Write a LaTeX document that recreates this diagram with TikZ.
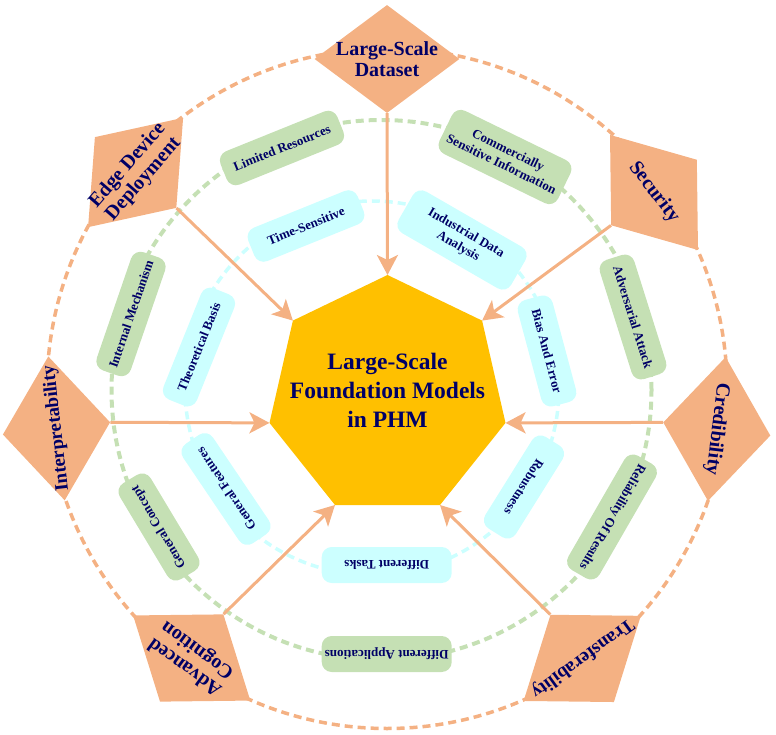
\documentclass[tikz,border=0pt]{standalone}
\usepackage{fontspec}
\setmainfont{Liberation Serif}
\usetikzlibrary{shapes.geometric,arrows.meta}
\definecolor{dorange}{HTML}{F4B183}
\definecolor{dgreen}{HTML}{C5E0B4}
\definecolor{dcyan}{HTML}{CCFFFF}
\definecolor{dgold}{HTML}{FFC000}
\definecolor{dnavy}{HTML}{000066}
\begin{document}
\begin{tikzpicture}[x=1pt,y=-1pt,
  dia/.style={shape=diamond, fill=dorange, minimum width=145pt, minimum height=108pt,
    inner sep=-25pt, text=dnavy, font=\fontsize{20}{21}\selectfont\bfseries, align=center},
  gbox/.style={rounded corners=10pt, fill=dgreen, minimum height=36pt, inner sep=0pt,
    text=dnavy, font=\fontsize{13}{15.5}\selectfont\bfseries, align=center},
  cbox/.style={gbox, fill=dcyan},
  ring/.style={line width=3.5pt, dash pattern=on 8pt off 5pt},
  arr/.style={draw=dorange, line width=3pt, -{Stealth[length=20pt,width=21pt,inset=5pt]}}]
\useasboundingbox (0,0) rectangle (776,735);

% rings
\draw[ring, draw=dorange] (387,388.5) circle[radius=340pt];
\draw[ring, draw=dgreen, line width=4pt] (381.5,390) circle[radius=270pt];
\draw[ring, draw=dcyan] (372,388) circle[radius=187pt];

% heptagon
\coordinate (h1) at (387.5,275);
\coordinate (h2) at (292.9,320.6);
\coordinate (h3) at (269.5,422.9);
\coordinate (h4) at (335.0,505.0);
\coordinate (h5) at (440.0,505.0);
\coordinate (h6) at (505.5,422.9);
\coordinate (h7) at (482.1,320.6);
\fill[dgold] (h1)--(h2)--(h3)--(h4)--(h5)--(h6)--(h7)--cycle;
\node[text=dnavy, font=\fontsize{23.5}{29}\selectfont\bfseries, align=center] (core) at (387.5,390)
  {Large-Scale\\Foundation Models\\in PHM};

% green boxes
\node[gbox, minimum width=126pt, rotate=22] (lim) at (282,148) {Limited Resources};
\node[gbox, minimum width=132pt, minimum height=48pt, rotate=-26] (com) at (505,157) {Commercially\\Sensitive Information};
\node[gbox, minimum width=125pt, rotate=-72.5] (advatt) at (633,317) {Adversarial Attack};
\node[gbox, minimum width=132pt, rotate=-120] (rel) at (612,517) {Reliability Of Results};
\node[gbox, minimum width=130pt, rotate=180] (diffapp) at (386.7,654) {Different Applications};
\node[gbox, minimum width=112pt, rotate=121] (gencon) at (159,527) {General Concept};
\node[gbox, minimum width=125pt, rotate=71] (intmech) at (131,314) {Internal Mechanism};

% cyan boxes
\node[cbox, minimum width=118pt, rotate=22] (time) at (306,226) {Time-Sensitive};
\node[cbox, minimum width=130pt, minimum height=48pt, rotate=-30] (ind) at (462,240) {Industrial Data\\Analysis};
\node[cbox, minimum width=110pt, rotate=-75] (bias) at (547,351) {Bias And Error};
\node[cbox, minimum width=108pt, rotate=-122] (rob) at (524,487) {Robustness};
\node[cbox, minimum width=130pt, rotate=180] (difft) at (386.7,565) {Different Tasks};
\node[cbox, minimum width=120pt, rotate=124] (genf) at (226,489) {General Features};
\node[cbox, minimum width=120pt, rotate=68] (theo) at (199,347) {Theoretical Basis};

% diamonds
\node[dia] (dataset) at (387,59) {Large-Scale\\Dataset};
\node[dia, rotate=49] (edge) at (135.6,172.5) {Edge Device\\Deployment};
\node[dia, rotate=-52.6] (security) at (654,192.5) {Security};
\node[dia, rotate=96.5, font=\fontsize{19}{21}\selectfont\bfseries] (interp) at (56.5,428.4) {Interpretability};
\node[dia, rotate=-97] (cred) at (716.8,429) {Credibility};
\node[dia, rotate=144] (adv) at (191.7,658) {Advanced\\Cognition};
\node[dia, rotate=-144, font=\fontsize{19}{21}\selectfont\bfseries] (trans) at (582.2,658.4) {Transferability};

% arrows
\draw[arr] (dataset.south) -- (h1);
\draw[arr] (edge.south) -- (h2);
\draw[arr] (interp.south) -- (h3);
\draw[arr] (adv.south) -- (h4);
\draw[arr] (trans.south) -- (h5);
\draw[arr] (cred.south) -- (h6);
\draw[arr] (security.south) -- (h7);
\end{tikzpicture}
\end{document}
